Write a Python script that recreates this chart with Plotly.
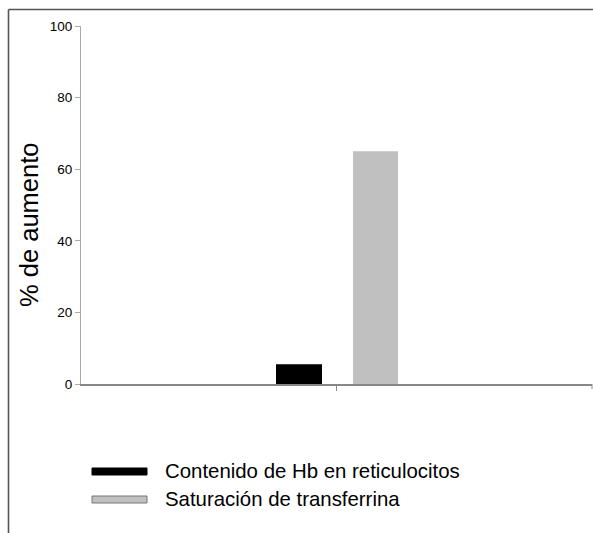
import plotly.graph_objects as go

categories = [" "]
series_names = ["Contenido de Hb en reticulocitos", "Saturación de transferrina"]
hb_values = [5.5]
sat_values = [65]
y_ticks = [0, 20, 40, 60, 80, 100]
y_title = "% de aumento"

colors = ["#000000", "#C0C0C0"]

W, H = 593, 533
L, R, T, B = 81, 1, 26, 149
pw = W - L - R
ph = H - T - B

def px(x):
    return (x - L) / pw

def py(y):
    return (H - B - y) / ph

fig = go.Figure()
fig.add_trace(go.Bar(x=categories, y=hb_values, name=series_names[0],
                     marker=dict(color=colors[0], line=dict(width=0)),
                     offset=(276 - (L + pw / 2)) / pw, width=46 / pw, showlegend=False))
fig.add_trace(go.Bar(x=categories, y=sat_values, name=series_names[1],
                     marker=dict(color=colors[1], line=dict(width=0)),
                     offset=(353 - (L + pw / 2)) / pw, width=45 / pw, showlegend=False))

shapes = []
# outer frame
shapes.append(dict(type="line", xref="paper", yref="paper", x0=px(8.5), x1=px(600), y0=py(9.5), y1=py(9.5),
                   line=dict(color="#555555", width=1.6)))
shapes.append(dict(type="line", xref="paper", yref="paper", x0=px(8.5), x1=px(8.5), y0=py(9.5), y1=py(540),
                   line=dict(color="#555555", width=1.6)))
# right end tick of x axis
shapes.append(dict(type="line", xref="paper", yref="paper", x0=px(592), x1=px(592), y0=py(384), y1=py(389),
                   line=dict(color="#888888", width=1)))
# legend swatches
shapes.append(dict(type="rect", xref="paper", yref="paper", x0=px(92), x1=px(147), y0=py(475), y1=py(468),
                   fillcolor=colors[0], line=dict(color="#000000", width=1)))
shapes.append(dict(type="rect", xref="paper", yref="paper", x0=px(92), x1=px(147), y0=py(503), y1=py(496),
                   fillcolor=colors[1], line=dict(color="#777777", width=1)))

annotations = [
    dict(xref="paper", yref="paper", x=px(163), y=py(471), text=series_names[0], showarrow=False,
         xanchor="left", yanchor="middle", font=dict(size=20.4, color="#000000")),
    dict(xref="paper", yref="paper", x=px(163), y=py(499), text=series_names[1], showarrow=False,
         xanchor="left", yanchor="middle", font=dict(size=20.4, color="#000000")),
    dict(xref="paper", yref="paper", x=px(29), y=py(225), text=y_title, showarrow=False, textangle=-90,
         xanchor="center", yanchor="middle", font=dict(size=25.5, color="#000000")),
]

fig.update_layout(
    width=W, height=H,
    margin=dict(l=L, r=R, t=T, b=B),
    paper_bgcolor="white", plot_bgcolor="white",
    font=dict(family="Liberation Sans, Arial, sans-serif", color="#000000"),
    barmode="overlay",
    showlegend=False,
    shapes=shapes,
    annotations=annotations,
    xaxis=dict(type="category", range=[-0.5, 0.5], showgrid=False, zeroline=False,
               showline=True, linecolor="#888888", linewidth=1.5,
               ticks="outside", ticklen=5, tickcolor="#888888", showticklabels=False,
               fixedrange=True),
    yaxis=dict(range=[0, 100], tickvals=y_ticks, showgrid=False, zeroline=False,
               showline=True, linecolor="#aaaaaa", linewidth=1,
               ticks="outside", ticklen=5, tickcolor="#aaaaaa",
               tickfont=dict(size=13.5)),
)

fig.write_html("out.html", config={"displayModeBar": False},
               post_script="document.body.style.margin='0';document.body.style.overflow='hidden';")
